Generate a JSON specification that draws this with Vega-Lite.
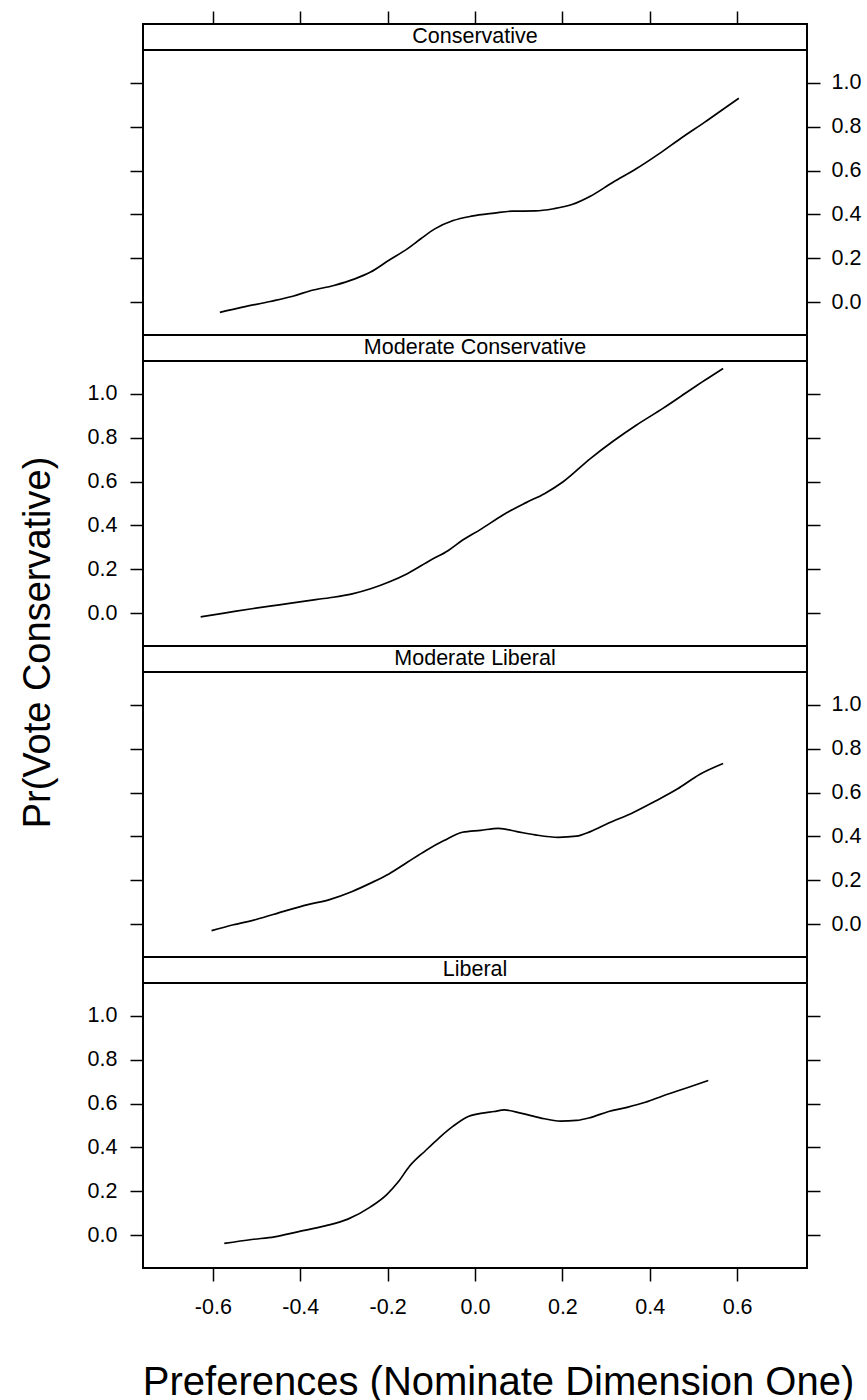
{
  "$schema": "https://vega.github.io/schema/vega-lite/v6.json",
  "padding": {"left": 18, "top": 9, "right": 0, "bottom": 0},
  "background": "white",
  "spacing": 0,
  "bounds": "flush",
  "config": {
    "font": "Liberation Sans",
    "view": {"stroke": "black", "strokeWidth": 2},
    "axis": {
      "grid": false, "domain": false, "tickColor": "black", "tickWidth": 1.5, "tickSize": 13,
      "labelFont": "Liberation Sans", "labelFontSize": 21.5, "labelColor": "black",
      "titleFont": "Liberation Sans", "titleFontWeight": "normal", "titleColor": "black"
    },
    "locale": {"number": {"decimal": ".", "thousands": ",", "grouping": [3], "currency": ["$", ""], "minus": "-"}}
  },
  "datasets": {
    "curves": [
      {"group": "Conservative", "x": -0.584, "y": -0.047},
      {"group": "Conservative", "x": -0.532, "y": -0.023},
      {"group": "Conservative", "x": -0.469, "y": 0.003},
      {"group": "Conservative", "x": -0.417, "y": 0.027},
      {"group": "Conservative", "x": -0.375, "y": 0.053},
      {"group": "Conservative", "x": -0.323, "y": 0.076},
      {"group": "Conservative", "x": -0.275, "y": 0.106},
      {"group": "Conservative", "x": -0.239, "y": 0.137},
      {"group": "Conservative", "x": -0.197, "y": 0.191},
      {"group": "Conservative", "x": -0.155, "y": 0.243},
      {"group": "Conservative", "x": -0.124, "y": 0.289},
      {"group": "Conservative", "x": -0.092, "y": 0.334},
      {"group": "Conservative", "x": -0.05, "y": 0.372},
      {"group": "Conservative", "x": -0.008, "y": 0.392},
      {"group": "Conservative", "x": 0.044, "y": 0.406},
      {"group": "Conservative", "x": 0.086, "y": 0.415},
      {"group": "Conservative", "x": 0.138, "y": 0.416},
      {"group": "Conservative", "x": 0.18, "y": 0.426},
      {"group": "Conservative", "x": 0.222, "y": 0.445},
      {"group": "Conservative", "x": 0.264, "y": 0.483},
      {"group": "Conservative", "x": 0.316, "y": 0.547},
      {"group": "Conservative", "x": 0.369, "y": 0.608},
      {"group": "Conservative", "x": 0.421, "y": 0.676},
      {"group": "Conservative", "x": 0.473, "y": 0.75},
      {"group": "Conservative", "x": 0.526, "y": 0.821},
      {"group": "Conservative", "x": 0.568, "y": 0.88},
      {"group": "Conservative", "x": 0.604, "y": 0.93},

      {"group": "Moderate Conservative", "x": -0.628, "y": -0.017},
      {"group": "Moderate Conservative", "x": -0.574, "y": 0.0},
      {"group": "Moderate Conservative", "x": -0.511, "y": 0.02},
      {"group": "Moderate Conservative", "x": -0.448, "y": 0.038},
      {"group": "Moderate Conservative", "x": -0.385, "y": 0.056},
      {"group": "Moderate Conservative", "x": -0.333, "y": 0.07},
      {"group": "Moderate Conservative", "x": -0.281, "y": 0.088},
      {"group": "Moderate Conservative", "x": -0.239, "y": 0.111},
      {"group": "Moderate Conservative", "x": -0.197, "y": 0.142},
      {"group": "Moderate Conservative", "x": -0.155, "y": 0.18},
      {"group": "Moderate Conservative", "x": -0.103, "y": 0.24},
      {"group": "Moderate Conservative", "x": -0.061, "y": 0.286},
      {"group": "Moderate Conservative", "x": -0.029, "y": 0.332},
      {"group": "Moderate Conservative", "x": 0.013, "y": 0.382},
      {"group": "Moderate Conservative", "x": 0.065, "y": 0.449},
      {"group": "Moderate Conservative", "x": 0.117, "y": 0.504},
      {"group": "Moderate Conservative", "x": 0.159, "y": 0.545},
      {"group": "Moderate Conservative", "x": 0.201, "y": 0.598},
      {"group": "Moderate Conservative", "x": 0.264, "y": 0.705},
      {"group": "Moderate Conservative", "x": 0.316, "y": 0.784},
      {"group": "Moderate Conservative", "x": 0.369, "y": 0.857},
      {"group": "Moderate Conservative", "x": 0.431, "y": 0.935},
      {"group": "Moderate Conservative", "x": 0.484, "y": 1.006},
      {"group": "Moderate Conservative", "x": 0.526, "y": 1.062},
      {"group": "Moderate Conservative", "x": 0.568, "y": 1.116},

      {"group": "Moderate Liberal", "x": -0.603, "y": -0.03},
      {"group": "Moderate Liberal", "x": -0.553, "y": -0.003},
      {"group": "Moderate Liberal", "x": -0.501, "y": 0.021},
      {"group": "Moderate Liberal", "x": -0.438, "y": 0.058},
      {"group": "Moderate Liberal", "x": -0.385, "y": 0.088},
      {"group": "Moderate Liberal", "x": -0.333, "y": 0.112},
      {"group": "Moderate Liberal", "x": -0.281, "y": 0.149},
      {"group": "Moderate Liberal", "x": -0.239, "y": 0.187},
      {"group": "Moderate Liberal", "x": -0.197, "y": 0.229},
      {"group": "Moderate Liberal", "x": -0.155, "y": 0.282},
      {"group": "Moderate Liberal", "x": -0.113, "y": 0.335},
      {"group": "Moderate Liberal", "x": -0.071, "y": 0.381},
      {"group": "Moderate Liberal", "x": -0.029, "y": 0.419},
      {"group": "Moderate Liberal", "x": 0.013, "y": 0.428},
      {"group": "Moderate Liberal", "x": 0.054, "y": 0.437},
      {"group": "Moderate Liberal", "x": 0.096, "y": 0.422},
      {"group": "Moderate Liberal", "x": 0.138, "y": 0.407},
      {"group": "Moderate Liberal", "x": 0.191, "y": 0.396},
      {"group": "Moderate Liberal", "x": 0.232, "y": 0.401},
      {"group": "Moderate Liberal", "x": 0.264, "y": 0.422},
      {"group": "Moderate Liberal", "x": 0.306, "y": 0.461},
      {"group": "Moderate Liberal", "x": 0.358, "y": 0.505},
      {"group": "Moderate Liberal", "x": 0.41, "y": 0.558},
      {"group": "Moderate Liberal", "x": 0.463, "y": 0.616},
      {"group": "Moderate Liberal", "x": 0.515, "y": 0.684},
      {"group": "Moderate Liberal", "x": 0.568, "y": 0.733},

      {"group": "Liberal", "x": -0.574, "y": -0.038},
      {"group": "Liberal", "x": -0.511, "y": -0.02},
      {"group": "Liberal", "x": -0.459, "y": -0.008},
      {"group": "Liberal", "x": -0.406, "y": 0.015},
      {"group": "Liberal", "x": -0.343, "y": 0.042},
      {"group": "Liberal", "x": -0.291, "y": 0.073},
      {"group": "Liberal", "x": -0.239, "y": 0.129},
      {"group": "Liberal", "x": -0.202, "y": 0.185},
      {"group": "Liberal", "x": -0.176, "y": 0.242},
      {"group": "Liberal", "x": -0.15, "y": 0.314},
      {"group": "Liberal", "x": -0.113, "y": 0.386},
      {"group": "Liberal", "x": -0.082, "y": 0.444},
      {"group": "Liberal", "x": -0.05, "y": 0.497},
      {"group": "Liberal", "x": -0.019, "y": 0.538},
      {"group": "Liberal", "x": 0.013, "y": 0.555},
      {"group": "Liberal", "x": 0.044, "y": 0.564},
      {"group": "Liberal", "x": 0.067, "y": 0.571},
      {"group": "Liberal", "x": 0.107, "y": 0.555},
      {"group": "Liberal", "x": 0.149, "y": 0.535},
      {"group": "Liberal", "x": 0.196, "y": 0.52},
      {"group": "Liberal", "x": 0.232, "y": 0.523},
      {"group": "Liberal", "x": 0.264, "y": 0.536},
      {"group": "Liberal", "x": 0.306, "y": 0.564},
      {"group": "Liberal", "x": 0.348, "y": 0.583},
      {"group": "Liberal", "x": 0.39, "y": 0.606},
      {"group": "Liberal", "x": 0.431, "y": 0.636},
      {"group": "Liberal", "x": 0.484, "y": 0.671},
      {"group": "Liberal", "x": 0.534, "y": 0.705}
    ]
  },
  "vconcat": [
    {
      "width": 664, "height": 26,
      "layer": [
        {
          "data": {"values": [{"level": "Conservative"}]},
          "mark": {"type": "rect", "fill": "white", "stroke": "black", "strokeWidth": 2},
          "encoding": {}
        },
        {
          "data": {"values": [{"level": "Conservative"}]},
          "mark": {"type": "text", "fontSize": 21.5, "font": "Liberation Sans", "color": "black", "baseline": "middle", "align": "center"},
          "encoding": {"text": {"field": "level"}}
        },
        {
          "data": {"name": "curves"},
          "transform": [{"filter": "datum.group === 'Conservative'"}],
          "mark": {"type": "point", "opacity": 0},
          "encoding": {
            "x": {"field": "x", "type": "quantitative", "scale": {"domain": [-0.76, 0.76], "nice": false, "zero": false},
              "axis": {"orient": "top", "labels": false, "title": null, "values": [-0.6, -0.4, -0.2, 0, 0.2, 0.4, 0.6]}}
          }
        }
      ]
    },
    {
      "width": 664, "height": 285,
      "data": {"name": "curves"},
      "transform": [{"filter": "datum.group === 'Conservative'"}],
      "layer": [
        {
          "mark": {"type": "line", "color": "black", "strokeWidth": 1.7, "interpolate": "monotone"},
          "encoding": {
            "x": {"field": "x", "type": "quantitative", "scale": {"domain": [-0.76, 0.76], "nice": false, "zero": false}, "axis": null},
            "y": {"field": "y", "type": "quantitative", "scale": {"domain": [-0.15, 1.15], "nice": false, "zero": false},
              "axis": {"orient": "left", "labels": false, "title": null, "values": [0, 0.2, 0.4, 0.6, 0.8, 1.0]}}
          }
        },
        {
          "mark": {"type": "line", "opacity": 0},
          "encoding": {
            "x": {"field": "x", "type": "quantitative", "axis": null},
            "y": {"field": "y", "type": "quantitative",
              "axis": {"orient": "right", "title": null, "format": ".1f", "labelPadding": 11, "values": [0, 0.2, 0.4, 0.6, 0.8, 1.0]}}
          }
        }
      ],
      "resolve": {"axis": {"x": "independent", "y": "independent"}}
    },
    {
      "width": 664, "height": 26,
      "data": {"values": [{"level": "Moderate Conservative"}]},
      "layer": [
        {"mark": {"type": "rect", "fill": "white", "stroke": "black", "strokeWidth": 2}, "encoding": {}},
        {"mark": {"type": "text", "fontSize": 21.5, "font": "Liberation Sans", "color": "black", "baseline": "middle", "align": "center"},
         "encoding": {"text": {"field": "level"}}}
      ]
    },
    {
      "width": 664, "height": 285,
      "data": {"name": "curves"},
      "transform": [{"filter": "datum.group === 'Moderate Conservative'"}],
      "layer": [
        {
          "mark": {"type": "line", "color": "black", "strokeWidth": 1.7, "interpolate": "monotone"},
          "encoding": {
            "x": {"field": "x", "type": "quantitative", "scale": {"domain": [-0.76, 0.76], "nice": false, "zero": false}, "axis": null},
            "y": {"field": "y", "type": "quantitative", "scale": {"domain": [-0.15, 1.15], "nice": false, "zero": false},
              "axis": {"orient": "left", "format": ".1f", "labelPadding": 13, "values": [0, 0.2, 0.4, 0.6, 0.8, 1.0],
                "title": "Pr(Vote Conservative)", "titleFontSize": 38, "titleAngle": -90, "titleBaseline": "middle", "titleAlign": "center", "titleX": -105, "titleY": 281}}
          }
        },
        {
          "mark": {"type": "line", "opacity": 0},
          "encoding": {
            "x": {"field": "x", "type": "quantitative", "axis": null},
            "y": {"field": "y", "type": "quantitative",
              "axis": {"orient": "right", "labels": false, "title": null, "values": [0, 0.2, 0.4, 0.6, 0.8, 1.0]}}
          }
        }
      ],
      "resolve": {"axis": {"x": "independent", "y": "independent"}}
    },
    {
      "width": 664, "height": 26,
      "data": {"values": [{"level": "Moderate Liberal"}]},
      "layer": [
        {"mark": {"type": "rect", "fill": "white", "stroke": "black", "strokeWidth": 2}, "encoding": {}},
        {"mark": {"type": "text", "fontSize": 21.5, "font": "Liberation Sans", "color": "black", "baseline": "middle", "align": "center"},
         "encoding": {"text": {"field": "level"}}}
      ]
    },
    {
      "width": 664, "height": 285,
      "data": {"name": "curves"},
      "transform": [{"filter": "datum.group === 'Moderate Liberal'"}],
      "layer": [
        {
          "mark": {"type": "line", "color": "black", "strokeWidth": 1.7, "interpolate": "monotone"},
          "encoding": {
            "x": {"field": "x", "type": "quantitative", "scale": {"domain": [-0.76, 0.76], "nice": false, "zero": false}, "axis": null},
            "y": {"field": "y", "type": "quantitative", "scale": {"domain": [-0.15, 1.15], "nice": false, "zero": false},
              "axis": {"orient": "left", "labels": false, "title": null, "values": [0, 0.2, 0.4, 0.6, 0.8, 1.0]}}
          }
        },
        {
          "mark": {"type": "line", "opacity": 0},
          "encoding": {
            "x": {"field": "x", "type": "quantitative", "axis": null},
            "y": {"field": "y", "type": "quantitative",
              "axis": {"orient": "right", "title": null, "format": ".1f", "labelPadding": 11, "values": [0, 0.2, 0.4, 0.6, 0.8, 1.0]}}
          }
        }
      ],
      "resolve": {"axis": {"x": "independent", "y": "independent"}}
    },
    {
      "width": 664, "height": 26,
      "data": {"values": [{"level": "Liberal"}]},
      "layer": [
        {"mark": {"type": "rect", "fill": "white", "stroke": "black", "strokeWidth": 2}, "encoding": {}},
        {"mark": {"type": "text", "fontSize": 21.5, "font": "Liberation Sans", "color": "black", "baseline": "middle", "align": "center"},
         "encoding": {"text": {"field": "level"}}}
      ]
    },
    {
      "width": 664, "height": 285,
      "data": {"name": "curves"},
      "transform": [{"filter": "datum.group === 'Liberal'"}],
      "layer": [
        {
          "mark": {"type": "line", "color": "black", "strokeWidth": 1.7, "interpolate": "monotone"},
          "encoding": {
            "x": {"field": "x", "type": "quantitative", "scale": {"domain": [-0.76, 0.76], "nice": false, "zero": false},
              "axis": {"orient": "bottom", "format": ".1f", "labelPadding": 15, "values": [-0.6, -0.4, -0.2, 0, 0.2, 0.4, 0.6],
                "title": "Preferences (Nominate Dimension One)", "titleFontSize": 40, "titleBaseline": "middle", "titleAlign": "center", "titleX": 355, "titleY": 114}},
            "y": {"field": "y", "type": "quantitative", "scale": {"domain": [-0.15, 1.15], "nice": false, "zero": false},
              "axis": {"orient": "left", "format": ".1f", "labelPadding": 13, "title": null, "values": [0, 0.2, 0.4, 0.6, 0.8, 1.0]}}
          }
        },
        {
          "mark": {"type": "line", "opacity": 0},
          "encoding": {
            "x": {"field": "x", "type": "quantitative", "axis": null},
            "y": {"field": "y", "type": "quantitative",
              "axis": {"orient": "right", "labels": false, "title": null, "values": [0, 0.2, 0.4, 0.6, 0.8, 1.0]}}
          }
        }
      ],
      "resolve": {"axis": {"x": "independent", "y": "independent"}}
    }
  ]
}
